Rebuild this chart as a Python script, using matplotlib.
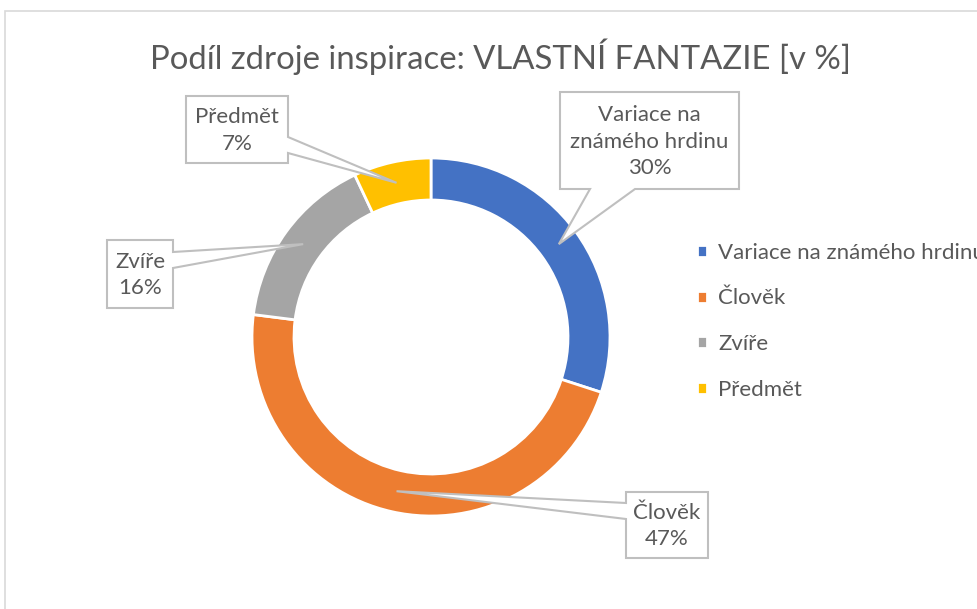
import matplotlib
matplotlib.use("Agg")
import matplotlib.pyplot as plt
from matplotlib.patches import Polygon, Rectangle
import numpy as np

categories = ["Variace na známého hrdinu", "Člověk", "Zvíře", "Předmět"]
label_text = ["Variace na\nznámého hrdinu", "Člověk", "Zvíře", "Předmět"]
shares = [30, 47, 16, 7]
colors = ["#4472C4", "#ED7D31", "#A5A5A5", "#FFC000"]

W, H = 977, 609
TXT = "#595959"
plt.rcParams["font.family"] = ["Lato", "DejaVu Sans"]


def Y(y):
    # image pixel row -> axes y (upwards)
    return H - y


fig = plt.figure(figsize=(W / 100, H / 100), dpi=100)
ax = fig.add_axes([0, 0, 1, 1])

# chart frame
ax.add_patch(Rectangle((4.5, -20), 1100, Y(11) + 20, fill=False,
                       edgecolor="#D9D9D9", linewidth=1.2))

cx, cy, R, ring = 431, Y(337), 179, 42
wedges, _ = ax.pie(shares, colors=colors, startangle=90, counterclock=False,
                   center=(cx, cy), radius=R,
                   wedgeprops=dict(width=ring, edgecolor="white", linewidth=2))

ax.set_xlim(0, W)
ax.set_ylim(0, H)
ax.set_aspect("equal")
ax.axis("off")

ax.text(500, Y(57), "Podíl zdroje inspirace: VLASTNÍ FANTAZIE [v %]",
        ha="center", va="center", fontsize=23.7, color=TXT)

# callout boxes: (x0, y0, x1, y1) in image pixels, pointer side, base points
boxes = [
    ((560, 92, 739, 189), "bottom", (590, 635)),
    ((626, 492, 708, 558), "left", (503, 519)),
    ((107, 240, 173, 308), "right", (252, 268)),
    ((186, 96, 288, 163), "right", (137, 153)),
]

for w, txt, val, (box, side, base) in zip(wedges, label_text, shares, boxes):
    mid = np.deg2rad((w.theta1 + w.theta2) / 2)
    rm = R - ring / 2
    tip = (cx + rm * np.cos(mid), cy + rm * np.sin(mid))
    x0, y0, x1, y1 = box
    tl, tr, br, bl = (x0, Y(y0)), (x1, Y(y0)), (x1, Y(y1)), (x0, Y(y1))
    if side == "bottom":
        pts = [tl, tr, br, (base[1], Y(y1)), tip, (base[0], Y(y1)), bl]
    elif side == "left":
        pts = [tl, tr, br, bl, (x0, Y(base[1])), tip, (x0, Y(base[0]))]
    else:
        pts = [tl, tr, (x1, Y(base[0])), tip, (x1, Y(base[1])), br, bl]
    ax.add_patch(Polygon(pts, closed=True, facecolor="white",
                         edgecolor="#BFBFBF", linewidth=1.5, zorder=5))
    ax.text((x0 + x1) / 2, Y((y0 + y1) / 2 + 1), f"{txt}\n{val}%",
            ha="center", va="center", fontsize=16, color=TXT,
            linespacing=1.42, zorder=6)

leg = ax.legend(wedges, categories, loc="upper left",
                bbox_to_anchor=(688 / W, Y(234) / H), frameon=False,
                fontsize=16, labelcolor=TXT, handlelength=0.45,
                handleheight=0.45, handletextpad=0.5, labelspacing=1.15,
                borderaxespad=0)

fig.savefig("out.png", dpi=100)
